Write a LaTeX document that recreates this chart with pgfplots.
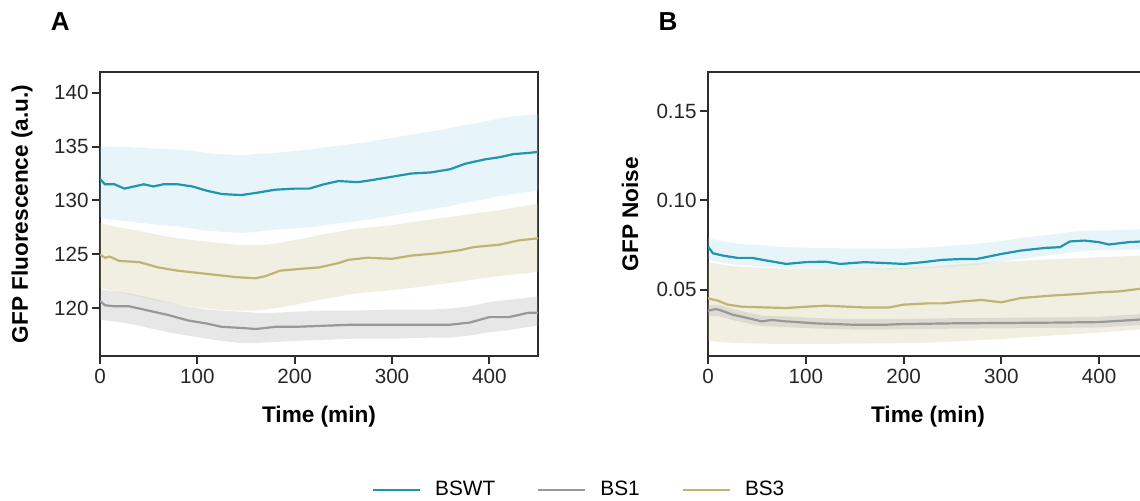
\documentclass[border=0pt]{standalone}
\usepackage{pgfplots}
\pgfplotsset{compat=1.18}
\usepackage{pgfplotstable}
\usepgfplotslibrary{fillbetween}
\usepackage{fontspec}
\setmainfont{Liberation Sans}
\definecolor{cWT}{RGB}{30,150,175}
\definecolor{cWTf}{RGB}{159,214,238}
\definecolor{cB1}{RGB}{152,152,152}
\definecolor{cB1f}{RGB}{160,160,160}
\definecolor{cB3}{RGB}{190,180,115}
\definecolor{cB3f}{RGB}{200,192,138}
\definecolor{spine}{RGB}{45,45,45}
\definecolor{tick}{RGB}{38,38,38}

\pgfplotstableread{
t m lo hi
0 132.0 128.5 135.0
5 131.5 128.3 135.0
15 131.5 128.2 135.0
25 131.1 128.1 135.0
35 131.3 128.0 134.9
45 131.5 127.9 134.9
55 131.3 127.8 134.8
65 131.5 127.7 134.8
80 131.5 127.6 134.7
95 131.3 127.4 134.6
110 130.9 127.2 134.4
125 130.6 127.1 134.3
145 130.5 127.0 134.2
160 130.7 127.1 134.3
180 131.0 127.3 134.4
200 131.1 127.4 134.6
215 131.1 127.5 134.7
230 131.5 127.7 134.9
245 131.8 127.9 135.1
265 131.7 128.1 135.3
280 131.9 128.3 135.5
300 132.2 128.6 135.8
320 132.5 128.9 136.1
340 132.6 129.2 136.4
360 132.9 129.5 136.7
375 133.4 129.8 137.0
395 133.8 130.1 137.3
410 134.0 130.4 137.6
425 134.3 130.6 137.8
440 134.4 130.8 137.9
450 134.5 130.9 138.0
}\wtA

\pgfplotstableread{
t m lo hi
0 125.0 121.9 127.9
5 124.7 121.8 127.8
10 124.8 121.7 127.7
20 124.4 121.5 127.5
40 124.3 121.1 127.2
60 123.8 120.7 126.8
80 123.5 120.4 126.5
100 123.3 120.1 126.3
120 123.1 119.9 126.1
140 122.9 119.8 125.9
160 122.8 119.8 125.9
170 123.0 119.9 125.9
185 123.5 120.1 126.1
210 123.7 120.5 126.5
225 123.8 120.8 126.8
245 124.2 121.1 127.1
255 124.5 121.3 127.3
275 124.7 121.5 127.5
300 124.6 121.7 127.7
320 124.9 121.9 128.0
345 125.1 122.2 128.3
370 125.4 122.5 128.6
385 125.7 122.7 128.8
410 125.9 123.0 129.1
430 126.3 123.2 129.4
450 126.5 123.4 129.7
}\bsthreeA

\pgfplotstableread{
t m lo hi
0 120.7 119.0 121.8
5 120.3 118.9 121.7
15 120.2 118.8 121.6
30 120.2 118.6 121.4
50 119.8 118.2 121.0
70 119.4 117.8 120.6
90 118.9 117.5 120.2
110 118.6 117.2 119.9
125 118.3 117.0 119.8
145 118.2 116.8 119.7
160 118.1 116.8 119.6
180 118.3 116.9 119.6
200 118.3 117.0 119.7
230 118.4 117.1 119.8
260 118.5 117.2 119.8
300 118.5 117.2 119.9
340 118.5 117.3 119.9
360 118.5 117.3 120.0
380 118.7 117.5 120.2
400 119.2 117.8 120.6
420 119.2 118.0 120.8
440 119.6 118.3 121.0
450 119.6 118.4 121.1
}\bsoneA

\pgfplotstableread{
t m lo hi
0 0.0742 0.0670 0.0790
5 0.0704 0.0662 0.0782
15 0.0691 0.0650 0.0770
30 0.0678 0.0638 0.0758
45 0.0678 0.0635 0.0752
60 0.0663 0.0628 0.0745
80 0.0644 0.0620 0.0738
100 0.0654 0.0618 0.0735
120 0.0657 0.0617 0.0733
135 0.0644 0.0615 0.0732
160 0.0654 0.0614 0.0731
185 0.0648 0.0613 0.0730
200 0.0644 0.0614 0.0731
220 0.0654 0.0618 0.0735
240 0.0667 0.0625 0.0742
260 0.0672 0.0632 0.0750
275 0.0672 0.0638 0.0756
300 0.0700 0.0655 0.0772
320 0.0719 0.0672 0.0790
345 0.0734 0.0690 0.0805
360 0.0738 0.0700 0.0815
370 0.0770 0.0708 0.0823
385 0.0775 0.0718 0.0830
400 0.0766 0.0722 0.0832
410 0.0753 0.0722 0.0832
430 0.0766 0.0725 0.0835
450 0.0772 0.0728 0.0838
}\wtB

\pgfplotstableread{
t m lo hi
0 0.0451 0.0213 0.0654
10 0.0438 0.0208 0.0645
20 0.0416 0.0203 0.0635
35 0.0404 0.0200 0.0628
60 0.0400 0.0197 0.0622
80 0.0397 0.0195 0.0618
100 0.0404 0.0195 0.0616
120 0.0410 0.0196 0.0616
160 0.0400 0.0198 0.0618
185 0.0400 0.0199 0.0620
200 0.0416 0.0200 0.0622
225 0.0423 0.0203 0.0628
240 0.0423 0.0206 0.0634
260 0.0434 0.0212 0.0642
280 0.0442 0.0218 0.0650
300 0.0429 0.0223 0.0654
320 0.0453 0.0232 0.0662
350 0.0466 0.0242 0.0670
380 0.0476 0.0252 0.0677
400 0.0485 0.0260 0.0682
420 0.0490 0.0268 0.0686
450 0.0510 0.0280 0.0692
}\bsthreeB

\pgfplotstableread{
t m lo hi
0 0.0382 0.0350 0.0412
8 0.0391 0.0352 0.0415
12 0.0386 0.0350 0.0413
25 0.0360 0.0330 0.0392
45 0.0335 0.0305 0.0366
55 0.0322 0.0295 0.0355
65 0.0330 0.0293 0.0352
80 0.0322 0.0290 0.0350
110 0.0311 0.0282 0.0341
150 0.0303 0.0276 0.0334
180 0.0303 0.0276 0.0334
200 0.0307 0.0278 0.0336
250 0.0311 0.0281 0.0340
300 0.0313 0.0283 0.0342
350 0.0315 0.0285 0.0345
400 0.0318 0.0288 0.0348
450 0.0335 0.0303 0.0365
}\bsoneB

\pgfplotsset{
  panel/.style={
    scale only axis,
    height=142pt,
    xmin=0, xmax=450,
    xtick={0,100,200,300,400},
    axis line style={spine, line width=1pt},
    tick style={spine, line width=1pt},
    major tick length=4pt,
    tick align=outside,
    tick pos=left,
    clip mode=individual,
    /pgf/number format/assume math mode=true,
    ticklabel style={font=\fontsize{10.3}{12}\selectfont, text=tick},
    yticklabel style={inner sep=1.5pt},
    xticklabel style={inner sep=2.5pt},
    label style={font=\fontsize{11.3}{13}\selectfont\bfseries},
    xlabel={Time (min)},
    xlabel style={at={(axis description cs:0.5,-0.215)}, anchor=center},
  },
}

\begin{document}
\begin{tikzpicture}
% Panel A
\begin{axis}[panel,
  at={(50pt,-178pt)}, anchor=south west,
  width=219pt,
  ymin=115.6, ymax=141.9,
  ytick={120,125,130,135,140},
  ylabel={GFP Fluorescence (a.u.)},
  ylabel style={at={(axis description cs:-0.178,0.5)}, anchor=center},
  legend columns=3,
  legend style={draw=none, fill=none, inner sep=0pt, outer sep=0pt,
    at={(axis description cs:0.621,-0.472)}, anchor=west,
    font=\fontsize{10.4}{12}\selectfont,
    /tikz/every odd column/.append style={column sep=5pt},
    /tikz/every even column/.append style={column sep=19pt}},
  legend image code/.code={\draw[#1] (0pt,0pt) -- (23.5pt,0pt);},
]
\addplot[name path=wtAhi, draw=none, forget plot] table[x=t,y=hi]{\wtA};
\addplot[name path=wtAlo, draw=none, forget plot] table[x=t,y=lo]{\wtA};
\addplot[fill=cWTf, fill opacity=0.25, draw=none, forget plot] fill between[of=wtAhi and wtAlo];
\addplot[name path=b3Ahi, draw=none, forget plot] table[x=t,y=hi]{\bsthreeA};
\addplot[name path=b3Alo, draw=none, forget plot] table[x=t,y=lo]{\bsthreeA};
\addplot[fill=cB3f, fill opacity=0.25, draw=none, forget plot] fill between[of=b3Ahi and b3Alo];
\addplot[name path=b1Ahi, draw=none, forget plot] table[x=t,y=hi]{\bsoneA};
\addplot[name path=b1Alo, draw=none, forget plot] table[x=t,y=lo]{\bsoneA};
\addplot[fill=cB1f, fill opacity=0.25, draw=none, forget plot] fill between[of=b1Ahi and b1Alo];
\addplot[cWT, line width=1.1pt] table[x=t,y=m]{\wtA};
\addlegendentry{BSWT}
\addplot[cB1, line width=1.1pt] table[x=t,y=m]{\bsoneA};
\addlegendentry{BS1}
\addplot[cB3, line width=1.1pt] table[x=t,y=m]{\bsthreeA};
\addlegendentry{BS3}
\node[font=\fontsize{13}{15}\selectfont\bfseries, anchor=center] at (axis description cs:-0.091,1.176) {A};
\end{axis}
% Panel B
\begin{axis}[panel,
  at={(354pt,-178pt)}, anchor=south west,
  width=220pt,
  ymin=0.0128, ymax=0.172,
  ytick={0.05,0.10,0.15},
  yticklabels={0.05,0.10,0.15},
  ylabel={GFP Noise},
  ylabel style={at={(axis description cs:-0.177,0.5)}, anchor=center},
]
\addplot[name path=wtBhi, draw=none, forget plot] table[x=t,y=hi]{\wtB};
\addplot[name path=wtBlo, draw=none, forget plot] table[x=t,y=lo]{\wtB};
\addplot[fill=cWTf, fill opacity=0.25, draw=none, forget plot] fill between[of=wtBhi and wtBlo];
\addplot[name path=b3Bhi, draw=none, forget plot] table[x=t,y=hi]{\bsthreeB};
\addplot[name path=b3Blo, draw=none, forget plot] table[x=t,y=lo]{\bsthreeB};
\addplot[fill=cB3f, fill opacity=0.25, draw=none, forget plot] fill between[of=b3Bhi and b3Blo];
\addplot[name path=b1Bhi, draw=none, forget plot] table[x=t,y=hi]{\bsoneB};
\addplot[name path=b1Blo, draw=none, forget plot] table[x=t,y=lo]{\bsoneB};
\addplot[fill=cB1f, fill opacity=0.25, draw=none, forget plot] fill between[of=b1Bhi and b1Blo];
\addplot[cWT, line width=1.1pt] table[x=t,y=m]{\wtB};
\addplot[cB1, line width=1.1pt] table[x=t,y=m]{\bsoneB};
\addplot[cB3, line width=1.1pt] table[x=t,y=m]{\bsthreeB};
\node[font=\fontsize{13}{15}\selectfont\bfseries, anchor=center] at (axis description cs:-0.091,1.176) {B};
\end{axis}
\pgfresetboundingbox
\useasboundingbox (0,0) rectangle (570pt,-250.5pt);
\end{tikzpicture}
\end{document}
